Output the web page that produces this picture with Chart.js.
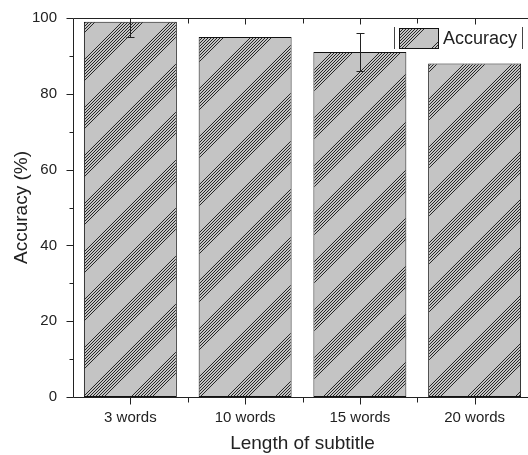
<!DOCTYPE html>
<html lang="en">
<head>
  <meta charset="UTF-8">
  <title>Accuracy by subtitle length</title>
  <script src="https://cdn.jsdelivr.net/npm/chart.js@4.4.1/dist/chart.umd.min.js"></script>
  <style>
    html, body { margin: 0; padding: 0; background: #fff; overflow: hidden; }
    #wrap { width: 540px; height: 455px; }
  </style>
</head>
<body>
  <div id="wrap"><canvas id="accChart"></canvas></div>

  <script>
    // data
    const categories = ['3 words', '10 words', '15 words', '20 words'];
    const accuracy = [99, 95, 91, 88];
    const accuracyErr = [4, 0, 5, 0];
    const yTicks = [0, 20, 40, 60, 80, 100];

    const FONT = '"Liberation Sans", Arial, sans-serif';

    // hatch fill: gray with bands of thin diagonal lines
    function makeHatch() {
      const t = 48;
      const c = document.createElement('canvas');
      c.width = t; c.height = t;
      const g = c.getContext('2d');
      g.fillStyle = '#c4c4c4';
      g.fillRect(0, 0, t, t);
      g.strokeStyle = '#262626';
      g.lineWidth = 1;
      for (let o = 0; o < 24; o += 3) {
        for (let k = -1; k <= 2; k++) {
          const b = o + t * k;
          g.beginPath();
          g.moveTo(0, b);
          g.lineTo(t, b - t);
          g.stroke();
        }
      }
      return g.createPattern(c, 'repeat');
    }
    const hatch = makeHatch();

    // axes frame, ticks, error bars and legend
    const framePlugin = {
      id: 'frame',
      afterDatasetsDraw(chart) {
        const ctx = chart.ctx;
        const a = chart.chartArea;
        const x = chart.scales.x;
        const y = chart.scales.y;
        ctx.save();

        // error bars
        ctx.save();
        ctx.beginPath();
        ctx.rect(a.left, a.top, a.right - a.left, a.bottom - a.top);
        ctx.clip();
        ctx.strokeStyle = '#222';
        ctx.lineWidth = 1;
        accuracy.forEach((v, i) => {
          const e = accuracyErr[i];
          if (!e) return;
          const px = Math.round(x.getPixelForValue(i)) + 0.5;
          const y1 = Math.round(y.getPixelForValue(v + e)) + 0.5;
          const y2 = Math.round(y.getPixelForValue(v - e)) + 0.5;
          ctx.beginPath();
          ctx.moveTo(px, y1); ctx.lineTo(px, y2);
          ctx.moveTo(px - 4, y1); ctx.lineTo(px + 4, y1);
          ctx.moveTo(px - 4, y2); ctx.lineTo(px + 4, y2);
          ctx.stroke();
        });
        ctx.restore();

        ctx.strokeStyle = '#222';
        ctx.lineWidth = 1;
        const L = Math.round(a.left) + 0.5;
        const T = Math.round(a.top) + 0.5;
        const B = Math.round(a.bottom) + 0.5;
        const R = Math.round(a.right) + 0.5;
        ctx.beginPath();
        ctx.moveTo(L, T); ctx.lineTo(L, B);
        ctx.moveTo(L, B); ctx.lineTo(R, B);
        ctx.moveTo(L, T); ctx.lineTo(R, T);
        ctx.moveTo(R, T); ctx.lineTo(R, B);

        // y ticks, major and minor, outward
        for (let v = 0; v <= 100; v += 10) {
          const py = Math.round(y.getPixelForValue(v)) + 0.5;
          const len = v % 20 === 0 ? 7 : 4;
          ctx.moveTo(L - len, py); ctx.lineTo(L, py);
        }
        // x ticks on bottom (outward) and top (inward)
        for (let i = 0; i < categories.length; i++) {
          const pc = Math.round(x.getPixelForValue(i)) + 0.5;
          ctx.moveTo(pc, B); ctx.lineTo(pc, B + 7);
          ctx.moveTo(pc, T); ctx.lineTo(pc, T + 6);
          if (i > 0) {
            const pb = Math.round(x.getPixelForValue(i - 0.5)) + 0.5;
            ctx.moveTo(pb, B); ctx.lineTo(pb, B + 5);
            ctx.moveTo(pb, T); ctx.lineTo(pb, T + 5);
          }
        }
        ctx.stroke();

        // legend
        const lx = 394, ly = 27;
        ctx.strokeStyle = '#444';
        ctx.beginPath();
        ctx.moveTo(lx + 0.5, ly); ctx.lineTo(lx + 0.5, ly + 22);
        ctx.moveTo(lx + 128.5, ly); ctx.lineTo(lx + 128.5, ly + 22);
        ctx.stroke();
        ctx.fillStyle = hatch;
        ctx.fillRect(lx + 5, ly + 1, 39, 20);
        ctx.strokeStyle = '#111';
        ctx.strokeRect(lx + 5.5, ly + 1.5, 39, 20);
        ctx.fillStyle = '#222';
        ctx.font = '18px ' + FONT;
        ctx.textBaseline = 'middle';
        ctx.fillText('Accuracy', lx + 49, ly + 12);

        ctx.restore();
      }
    };

    const chart = new Chart(document.getElementById('accChart'), {
      type: 'bar',
      data: {
        labels: categories,
        datasets: [{
          label: 'Accuracy',
          data: accuracy,
          backgroundColor: hatch,
          borderColor: '#111',
          borderWidth: 1,
          borderSkipped: false,
          barPercentage: 0.81,
          categoryPercentage: 1
        }]
      },
      options: {
        responsive: true,
        maintainAspectRatio: false,
        animation: false,
        layout: { padding: { top: 18, right: 8, left: 0, bottom: 0 } },
        plugins: {
          legend: { display: false },
          tooltip: { enabled: false }
        },
        scales: {
          x: {
            grid: { display: false },
            border: { display: false },
            ticks: {
              color: '#222',
              padding: 4,
              font: { family: FONT, size: 15 }
            },
            title: {
              display: true,
              text: 'Length of subtitle',
              color: '#222',
              padding: { top: 0, bottom: 0 },
              font: { family: FONT, size: 19 }
            },
            afterFit: s => { s.height = 58; }
          },
          y: {
            min: 0,
            max: 100,
            grid: { display: false },
            border: { display: false },
            afterBuildTicks: s => { s.ticks = yTicks.map(v => ({ value: v })); },
            ticks: {
              color: '#222',
              padding: 8,
              font: { family: FONT, size: 15 }
            },
            title: {
              display: true,
              text: 'Accuracy (%)',
              color: '#222',
              padding: { top: 10, bottom: 0 },
              font: { family: FONT, size: 19 }
            },
            afterFit: s => { s.width = 73; }
          }
        }
      },
      plugins: [framePlugin]
    });
  </script>
</body>
</html>
